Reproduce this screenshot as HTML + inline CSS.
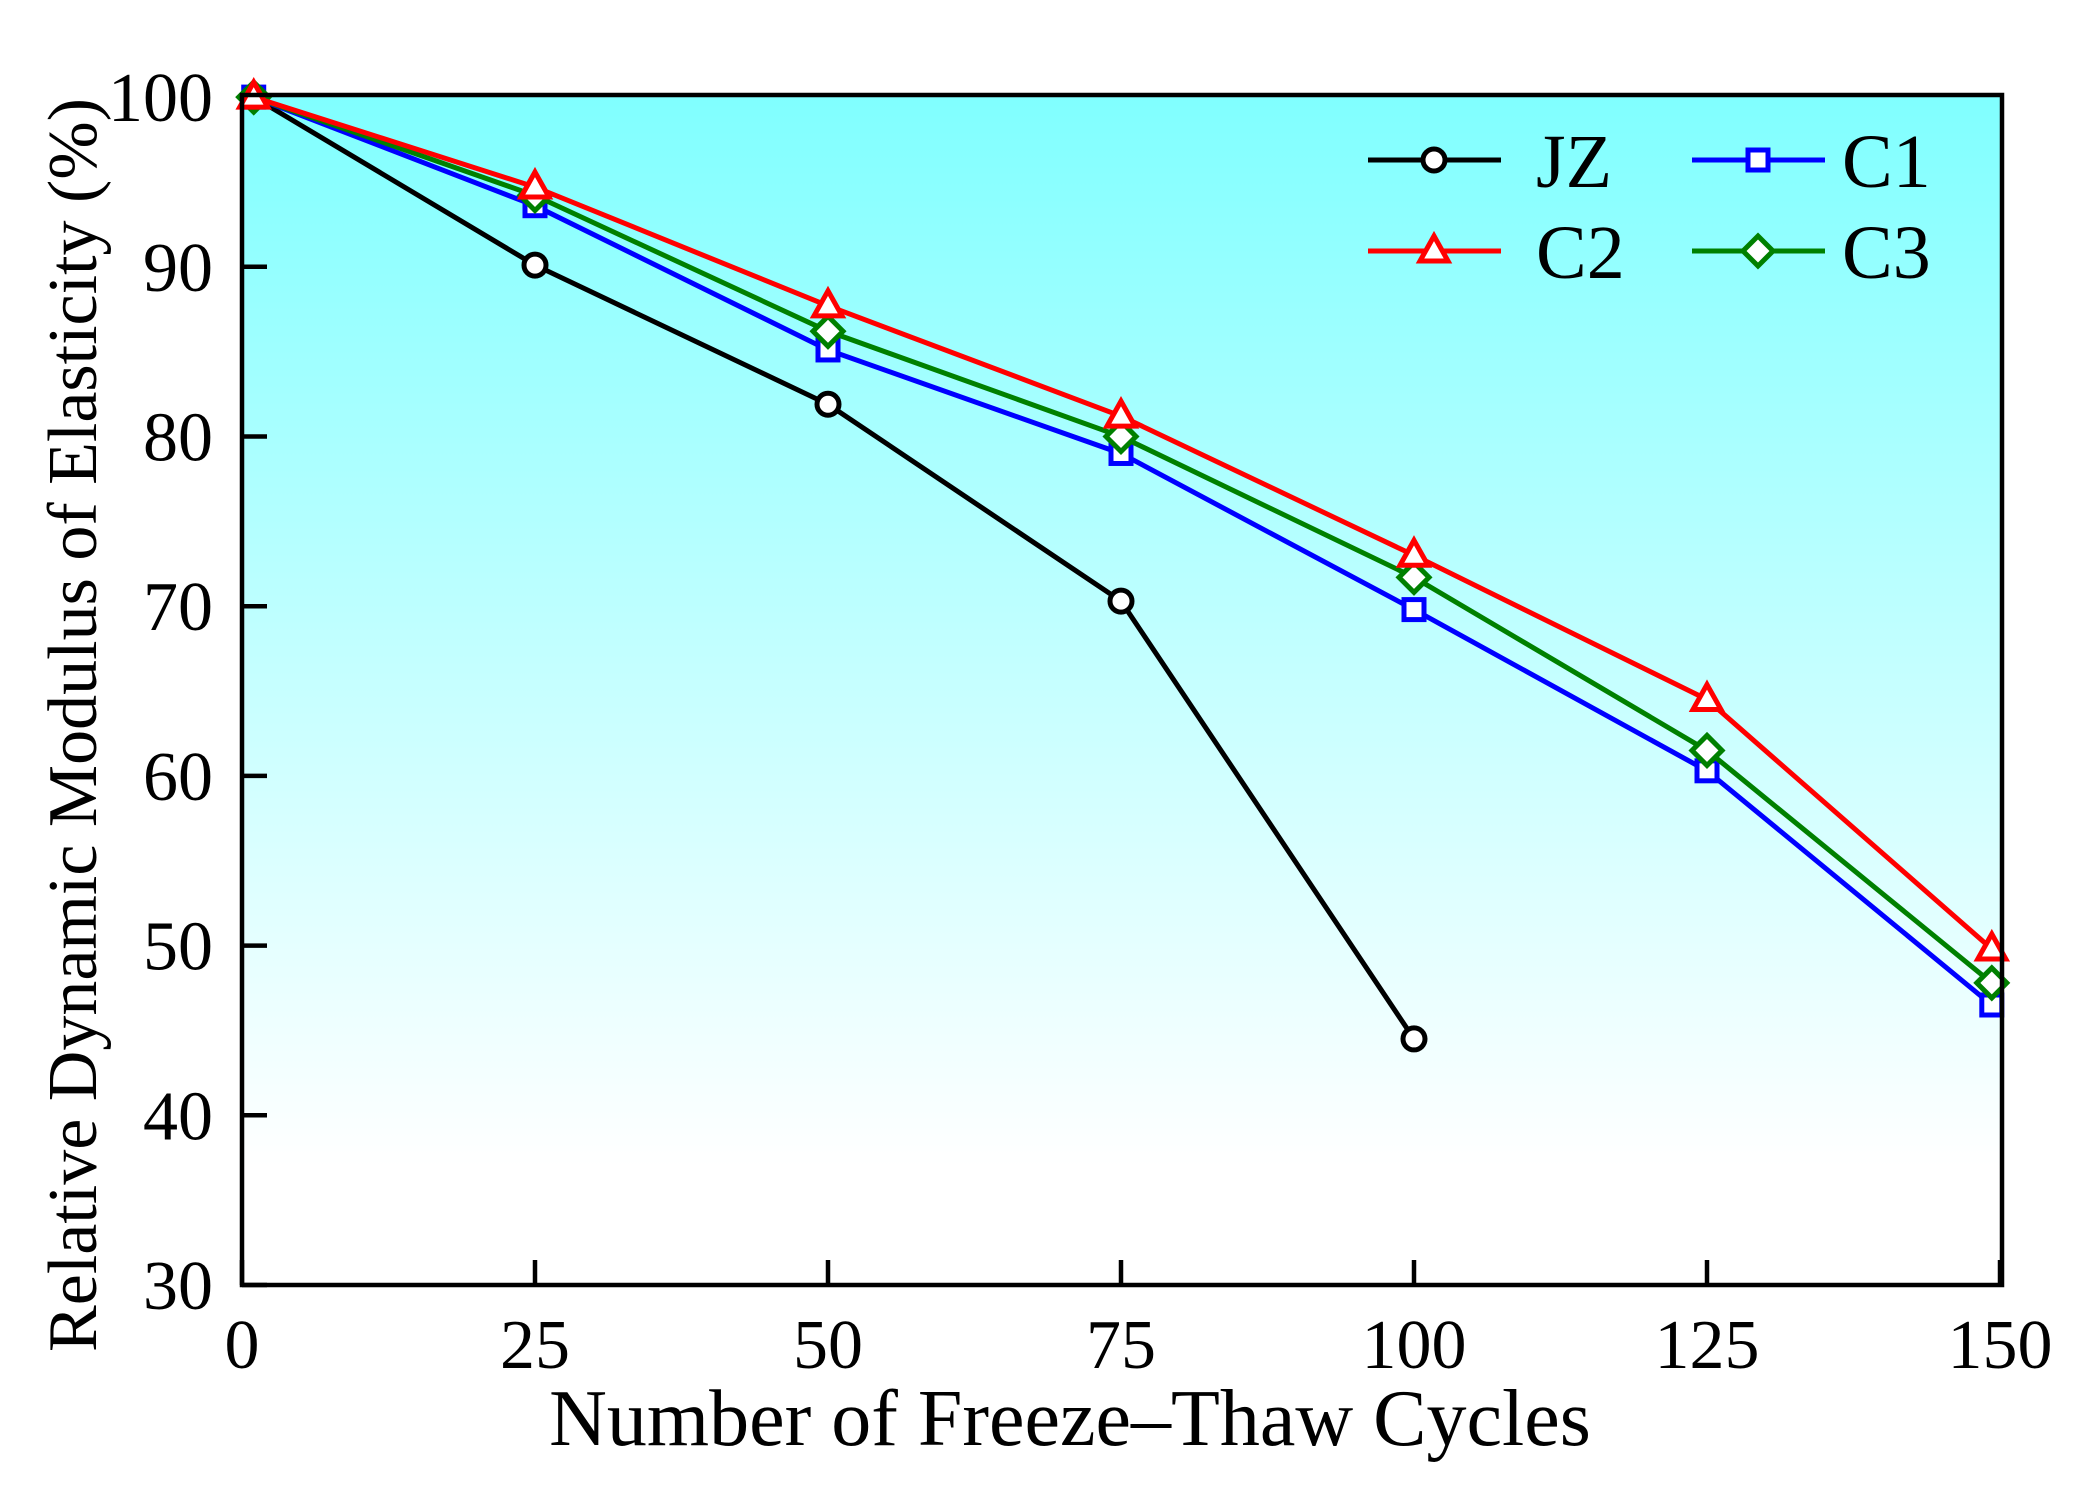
<!DOCTYPE html>
<html><head><meta charset="utf-8"><style>
html,body{margin:0;padding:0;background:#fff;}
svg{display:block;font-family:"Liberation Serif",serif;}
</style></head><body>
<svg id="chart" width="2079" height="1502" viewBox="0 0 2079 1502">
<defs><linearGradient id="bg" x1="0" y1="0" x2="0" y2="1"><stop offset="0" stop-color="#80ffff"/><stop offset="0.9" stop-color="#ffffff"/><stop offset="1" stop-color="#ffffff"/></linearGradient></defs>
<rect x="242" y="95" width="1760" height="1190" fill="url(#bg)"/>
<g id="ticks"></g>
<g id="series"></g>
<rect x="242" y="95" width="1760" height="1190" fill="none" stroke="#000" stroke-width="4.5"/>
<text x="1070" y="1445" font-size="80" text-anchor="middle">Number of Freeze–Thaw Cycles</text>
<text transform="translate(96,725) rotate(-90)" font-size="70" text-anchor="middle">Relative Dynamic Modulus of Elasticity (%)</text>
<g id="legend"></g>
</svg>
<script>
const xTicks=[0,25,50,75,100,125,150];
const yTicks=[30,40,50,60,70,80,90,100];
const xJZ=[1,25,50,75,100];
const yJZ=[100,90.1,81.9,70.3,44.5];
const xC=[1,25,50,75,100,125,149.3];
const yC1=[100,93.6,85.1,79.0,69.8,60.3,46.5];
const yC2=[100,94.7,87.7,81.2,73.0,64.5,49.8];
const yC3=[100,94.2,86.2,80.0,71.7,61.5,47.8];
const NS='http://www.w3.org/2000/svg';
const X=v=>242+v*11.72;
const Y=v=>1285-(v-30)*16.97;
function mk(tag,attrs,parent){const e=document.createElementNS(NS,tag);for(const k in attrs)e.setAttribute(k,attrs[k]);parent.appendChild(e);return e;}
const tg=document.getElementById('ticks');
xTicks.forEach(t=>{
  const l=mk('line',{x1:X(t),x2:X(t),y1:1285,y2:1260,stroke:'#000','stroke-width':4.5},tg);
  
  
  const tx=mk('text',{x:X(t),y:1368,'font-size':70,'text-anchor':'middle'},tg);
  tx.textContent=t;
  
  
});
yTicks.forEach(t=>{
  const l=mk('line',{x1:242,x2:267,y1:Y(t),y2:Y(t),stroke:'#000','stroke-width':4.5},tg);
  
  
  const tx=mk('text',{x:213,y:Y(t)+24,'font-size':70,'text-anchor':'end'},tg);
  tx.textContent=t;
  
  
});
function marker(type,cx,cy,color,parent){
  let e;
  if(type==='circle')e=mk('circle',{cx:cx,cy:cy,r:11,fill:'#fff',stroke:color,'stroke-width':5},parent);
  else if(type==='square')e=mk('rect',{x:cx-10,y:cy-10,width:20,height:20,fill:'#fff',stroke:color,'stroke-width':5},parent);
  else if(type==='triangle')e=mk('polygon',{points:`${cx},${cy-15} ${cx+14},${cy+10} ${cx-14},${cy+10}`,fill:'#fff',stroke:color,'stroke-width':5},parent);
  else e=mk('polygon',{points:`${cx},${cy-15} ${cx+15},${cy} ${cx},${cy+15} ${cx-15},${cy}`,fill:'#fff',stroke:color,'stroke-width':5},parent);
  return e;
}
const sg=document.getElementById('series');
const series=[
 {name:'jz',xs:xJZ,ys:yJZ,color:'#000',m:'circle'},
 {name:'c1',xs:xC,ys:yC1,color:'#0000ff',m:'square'},
 {name:'c3',xs:xC,ys:yC3,color:'#008000',m:'diamond'},
 {name:'c2',xs:xC,ys:yC2,color:'#ff0000',m:'triangle'}
];
series.forEach(s=>{
  const g=mk('g',{},sg);
  
  
  const pl=mk('polyline',{points:s.xs.map((x,i)=>X(x)+','+Y(s.ys[i])).join(' '),fill:'none',stroke:s.color,'stroke-width':5},g);
  
  
  s.xs.forEach((x,i)=>{
    const m=marker(s.m,X(x),Y(s.ys[i]),s.color,g);
    
    
  });
});
const lg=document.getElementById('legend');
const leg=[
 {label:'JZ',color:'#000',m:'circle',x:1368,y:160,tx:168},
 {label:'C1',color:'#0000ff',m:'square',x:1692,y:160,tx:150},
 {label:'C2',color:'#ff0000',m:'triangle',x:1368,y:251,tx:168},
 {label:'C3',color:'#008000',m:'diamond',x:1692,y:251,tx:150}
];
leg.forEach(e=>{
  const g=mk('g',{},lg);
  
  
  mk('line',{x1:e.x,x2:e.x+133,y1:e.y,y2:e.y,stroke:e.color,'stroke-width':5},g);
  marker(e.m,e.x+66,e.y,e.color,g);
  const t=mk('text',{x:e.x+e.tx,y:e.y+27,'font-size':76},g);
  t.textContent=e.label;
});
</script>
</body></html>
